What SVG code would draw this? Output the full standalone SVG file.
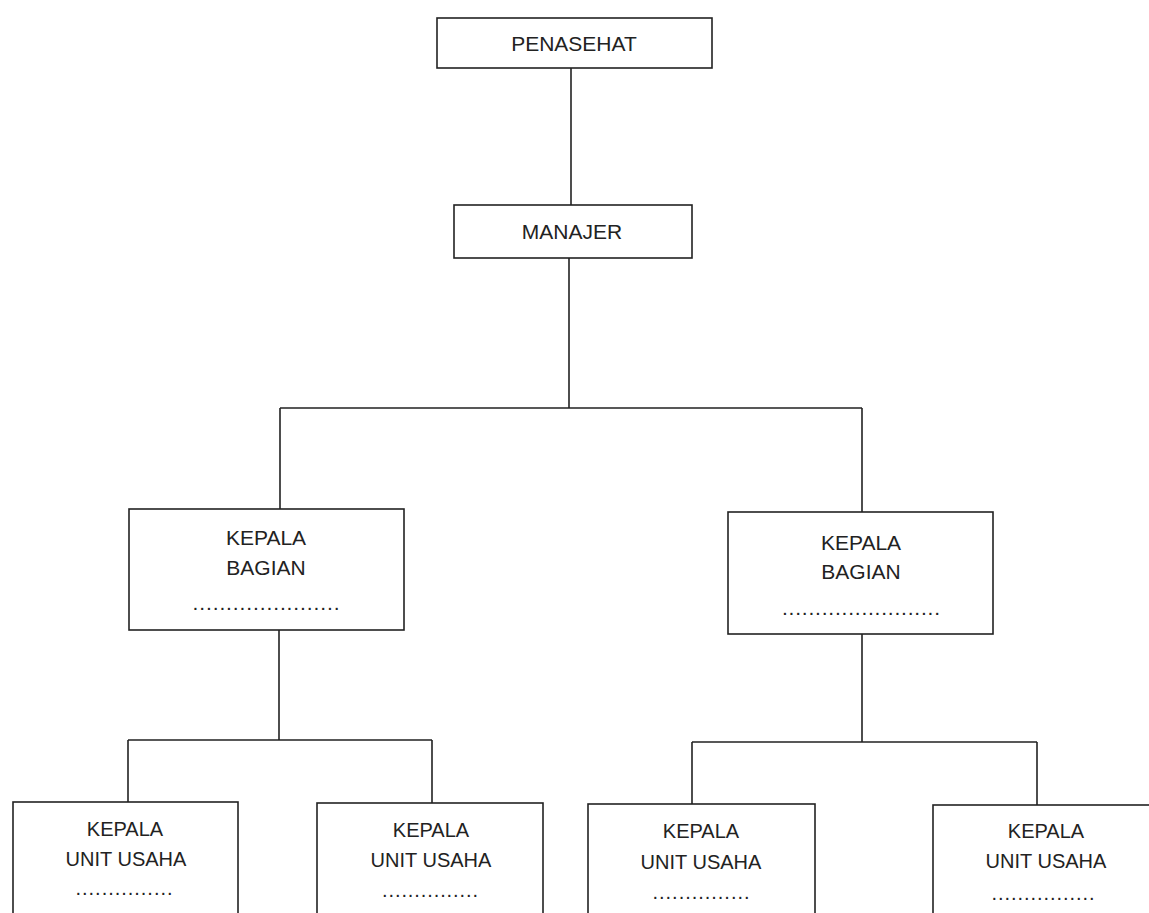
<svg xmlns="http://www.w3.org/2000/svg" width="1149" height="913" viewBox="0 0 1149 913">
<style>
.box{fill:#fff;stroke:#222;stroke-width:1.6}
.ln{fill:none;stroke:#222;stroke-width:1.6}
.t{font-family:"Liberation Sans",Arial,sans-serif;fill:#222;text-anchor:middle}
.t1{font-size:21px}
.t2{font-size:20px}
</style>
<rect width="1149" height="913" fill="#fff"/>
<g id="connectors">
<path class="ln" d="M571 68V205"/>
<path class="ln" d="M569 258V408M280 408H862M280 408V509M862 408V512"/>
<path class="ln" d="M279 630V740M128 740H432M128 740V802M432 740V803"/>
<path class="ln" d="M862 634V742M692 742H1037M692 742V804M1037 742V805"/>
</g>
<g id="penasehat">
<rect class="box" x="437" y="18" width="275" height="50"/>
<text class="t t1" x="574" y="51">PENASEHAT</text>
</g>
<g id="manajer">
<rect class="box" x="454" y="205" width="238" height="53"/>
<text class="t t1" x="572" y="239">MANAJER</text>
</g>
<g id="bagian1">
<rect class="box" x="129" y="509" width="275" height="121"/>
<text class="t t1" x="266" y="545">KEPALA</text>
<text class="t t1" x="266" y="575">BAGIAN</text>
<text class="t t1" x="266" y="610" textLength="147" lengthAdjust="spacing">......................</text>
</g>
<g id="bagian2">
<rect class="box" x="728" y="512" width="265" height="122"/>
<text class="t t1" x="861" y="550">KEPALA</text>
<text class="t t1" x="861" y="579">BAGIAN</text>
<text class="t t1" x="861" y="615" textLength="158" lengthAdjust="spacing">........................</text>
</g>
<g id="unit1">
<rect class="box" x="13" y="802" width="225" height="130"/>
<text class="t t2" x="125" y="836">KEPALA</text>
<text class="t t2" x="126" y="866">UNIT USAHA</text>
<text class="t t2" x="124" y="895" textLength="97" lengthAdjust="spacing">...............</text>
</g>
<g id="unit2">
<rect class="box" x="317" y="803" width="226" height="130"/>
<text class="t t2" x="431" y="837">KEPALA</text>
<text class="t t2" x="431" y="867">UNIT USAHA</text>
<text class="t t2" x="430" y="897" textLength="96" lengthAdjust="spacing">...............</text>
</g>
<g id="unit3">
<rect class="box" x="588" y="804" width="227" height="130"/>
<text class="t t2" x="701" y="838">KEPALA</text>
<text class="t t2" x="701" y="869">UNIT USAHA</text>
<text class="t t2" x="701" y="899" textLength="97" lengthAdjust="spacing">...............</text>
</g>
<g id="unit4">
<rect class="box" x="933" y="805" width="226" height="130"/>
<text class="t t2" x="1046" y="838">KEPALA</text>
<text class="t t2" x="1046" y="868">UNIT USAHA</text>
<text class="t t2" x="1043" y="900" textLength="103" lengthAdjust="spacing">................</text>
</g>
</svg>
